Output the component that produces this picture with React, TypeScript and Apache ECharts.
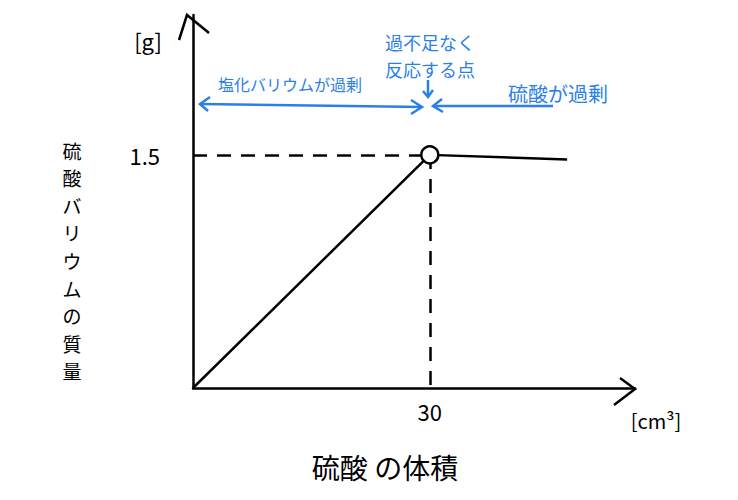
import { useEffect, useRef } from 'react';
import * as echarts from 'echarts';

// 硫酸の体積 [cm3] と 硫酸バリウムの質量 [g]
const volume = [0, 30, 47.4];
const mass = [0, 1.5, 1.47];
const xTicks = [30];
const yTicks = [1.5];
const eqPoint = [30, 1.5];
const yTitle = '硫酸バリウムの質量';

const FONT = '"Noto Sans CJK JP", "Noto Sans", sans-serif';
const BLUE = '#2a7fe8';

export default function App() {
  const chartRef = useRef(null);

  useEffect(() => {
    document.body.style.margin = '0';
    const chart = echarts.init(chartRef.current, null, { renderer: 'svg' });

    const blueLine = (points: number[][]) => ({
      type: 'polyline',
      shape: { points },
      style: { stroke: BLUE, lineWidth: 2.5, fill: 'none' },
    });
    const blackLine = (points: number[][]) => ({
      type: 'polyline',
      shape: { points },
      style: { stroke: '#000', lineWidth: 2.5, fill: 'none' },
    });
    const txt = (text: string, x: number, y: number, size: number, color: string, lh?: number) => ({
      type: 'text',
      x,
      y,
      style: {
        text,
        fill: color,
        fontSize: size,
        fontFamily: FONT,
        align: 'center',
        verticalAlign: 'middle',
        lineHeight: lh || size * 1.2,
      },
    });

    // vertical y-axis title, one character per element
    const yTitleChars = yTitle.split('').map((c, i) => txt(c, 72, 150 + i * 27.6, 19, '#000', 20));

    const option = {
      animation: false,
      grid: { left: 193, right: 103, top: 15, bottom: 112 },
      xAxis: {
        type: 'value',
        min: 0,
        max: 56,
        axisLine: { lineStyle: { color: '#000', width: 2.5 } },
        axisTick: { show: false },
        splitLine: { show: false },
        axisLabel: {
          customValues: xTicks,
          color: '#000',
          fontSize: 22,
          fontFamily: FONT,
          margin: 12,
        },
      },
      yAxis: {
        type: 'value',
        min: 0,
        max: 2.4,
        axisLine: { show: true, lineStyle: { color: '#000', width: 2.5 } },
        axisTick: { show: false },
        splitLine: { show: false },
        axisLabel: {
          customValues: yTicks,
          color: '#000',
          fontSize: 22,
          fontFamily: FONT,
          margin: 33,
        },
      },
      series: [
        {
          type: 'line',
          data: volume.map((v, i) => [v, mass[i]]),
          symbol: 'none',
          lineStyle: { color: '#000', width: 2.5 },
          z: 2,
          markLine: {
            silent: true,
            symbol: 'none',
            label: { show: false },
            lineStyle: { color: '#000', width: 2.5, type: [14, 10] },
            data: [
              [{ coord: [0, eqPoint[1]] }, { coord: eqPoint }],
              [{ coord: eqPoint }, { coord: [eqPoint[0], 0] }],
            ],
          },
        },
        {
          type: 'scatter',
          data: [eqPoint],
          symbol: 'circle',
          symbolSize: 17,
          itemStyle: { color: '#fff', borderColor: '#000', borderWidth: 2.5, opacity: 1 },
          z: 5,
        },
      ],
      graphic: [
        // axis arrow heads
        blackLine([[179, 40], [187, 15], [209, 33]]),
        blackLine([[620, 378], [635, 389], [614, 405]]),
        // units
        txt('[g]', 148, 40, 22, '#000'),
        txt('[cm³]', 656, 420, 20, '#000'),
        // axis titles
        ...yTitleChars,
        txt('硫酸 の体積', 385, 467, 28, '#000'),
        // blue annotations
        txt('過不足なく', 430, 42, 18, BLUE),
        txt('反応する点', 430, 69, 18, BLUE),
        txt('塩化バリウムが過剰', 290, 84, 16, BLUE),
        txt('硫酸が過剰', 558, 93, 20, BLUE),
        blueLine([[428, 80], [428, 97]]),
        blueLine([[423, 91], [428, 97], [433, 90]]),
        blueLine([[200, 104], [422, 107]]),
        blueLine([[210, 97], [200, 104], [208, 111]]),
        blueLine([[411, 100], [422, 107], [411, 114]]),
        blueLine([[433, 106], [553, 106]]),
        blueLine([[442, 99], [433, 106], [443, 112]]),
      ],
    };

    chart.setOption(option);
    return () => {
      chart.dispose();
    };
  }, []);

  return <div ref={chartRef} style={{ width: '738px', height: '500px' }} />;
}
